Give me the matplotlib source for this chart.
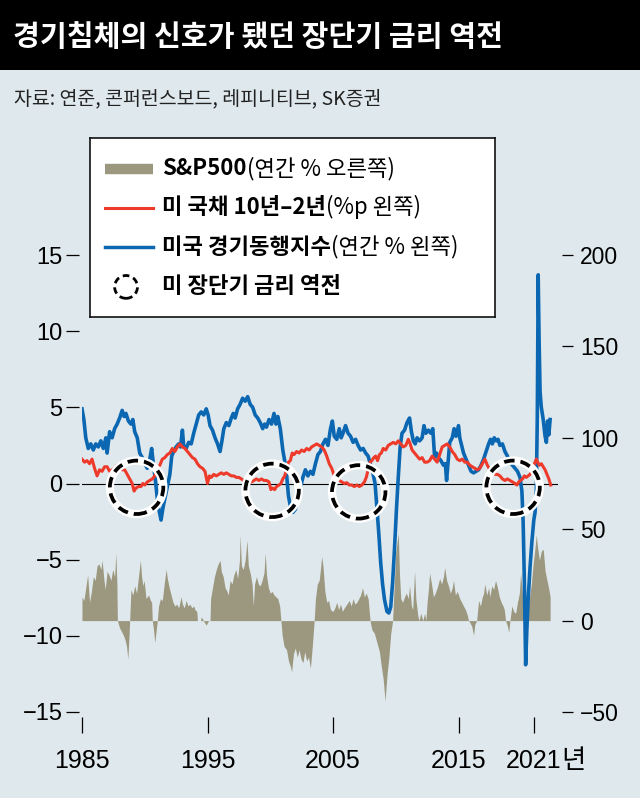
import matplotlib
matplotlib.use("Agg")
import matplotlib.pyplot as plt
from matplotlib.patches import Rectangle

KR = ["Noto Sans CJK KR", "DejaVu Sans"]
NUM = ["Liberation Sans Narrow", "Liberation Sans", "Noto Sans CJK KR"]
plt.rcParams["font.family"] = KR

BG = "#dfe8ec"
BLUE = "#0b67b2"
RED = "#ee3a2a"
SPX = "#9c977f"

title = "경기침체의 신호가 됐던 장단기 금리 역전"
source = "자료: 연준, 콘퍼런스보드, 레피니티브, SK증권"

# 미국 경기동행지수 (연간 %, 왼쪽 축)
lei_years = [1985.0, 1985.15, 1985.3, 1985.5, 1985.7, 1985.9, 1986.1, 1986.3, 1986.5, 1986.7,
             1986.9, 1987.0, 1987.2, 1987.4, 1987.6, 1987.8, 1988.0, 1988.2, 1988.35, 1988.5,
             1988.7, 1988.9, 1989.05, 1989.2, 1989.4, 1989.6, 1989.8, 1990.0, 1990.2, 1990.4,
             1990.55, 1990.7, 1990.85, 1991.0, 1991.15, 1991.3, 1991.45, 1991.6, 1991.8, 1992.0,
             1992.15, 1992.3, 1992.5, 1992.7, 1992.85, 1993.0, 1993.1, 1993.3, 1993.5, 1993.7,
             1993.9, 1994.1, 1994.3, 1994.5, 1994.7, 1994.9, 1995.05, 1995.2, 1995.4, 1995.6,
             1995.8, 1996.0, 1996.15, 1996.3, 1996.5, 1996.7, 1996.9, 1997.05, 1997.2, 1997.4,
             1997.6, 1997.8, 1998.0, 1998.2, 1998.4, 1998.6, 1998.8, 1999.0, 1999.2, 1999.4,
             1999.55, 1999.7, 1999.9, 2000.1, 2000.3, 2000.45, 2000.6, 2000.8, 2001.0, 2001.15,
             2001.3, 2001.45, 2001.6, 2001.8, 2002.0, 2002.2, 2002.4, 2002.6, 2002.8, 2003.0,
             2003.2, 2003.4, 2003.6, 2003.8, 2004.0, 2004.2, 2004.4, 2004.6, 2004.8, 2004.95,
             2005.1, 2005.3, 2005.5, 2005.65, 2005.8, 2006.0, 2006.2, 2006.4, 2006.6, 2006.8,
             2007.0, 2007.2, 2007.4, 2007.6, 2007.8, 2008.0, 2008.2, 2008.35, 2008.5, 2008.65,
             2008.8, 2008.95, 2009.1, 2009.3, 2009.45, 2009.6, 2009.75, 2009.9, 2010.05, 2010.2,
             2010.35, 2010.5, 2010.7, 2010.9, 2011.1, 2011.25, 2011.4, 2011.55, 2011.7, 2011.9,
             2012.1, 2012.25, 2012.4, 2012.6, 2012.8, 2012.95, 2013.1, 2013.25, 2013.4, 2013.6,
             2013.8, 2013.95, 2014.05, 2014.15, 2014.3, 2014.5, 2014.65, 2014.8, 2015.0, 2015.1,
             2015.25, 2015.4, 2015.6, 2015.8, 2016.0, 2016.2, 2016.4, 2016.6, 2016.8, 2017.0,
             2017.2, 2017.4, 2017.55, 2017.7, 2017.85, 2018.0, 2018.15, 2018.3, 2018.5, 2018.7,
             2018.9, 2019.1, 2019.3, 2019.5, 2019.7, 2019.9, 2020.05, 2020.15, 2020.25, 2020.35,
             2020.45, 2020.55, 2020.7, 2020.85, 2021.0, 2021.1, 2021.2, 2021.28, 2021.35, 2021.42,
             2021.5, 2021.6, 2021.75, 2021.9, 2022.0, 2022.1, 2022.2, 2022.3]
lei_vals = [4.9, 4.2, 3.0, 2.3, 2.6, 2.2, 2.6, 2.4, 2.8, 2.3,
            3.0, 2.0, 3.4, 3.0, 3.6, 3.9, 4.3, 4.8, 4.4, 4.6,
            4.1, 3.9, 4.2, 3.4, 3.0, 2.0, 1.7, 1.3, 1.0, 1.6,
            2.3, 1.2, 0.2, -1.0, -1.8, -2.4, -1.6, -1.0, -0.2, 0.6,
            1.8, 2.1, 2.4, 2.6, 2.4, 3.5, 2.5, 2.3, 2.7, 2.6,
            3.3, 3.9, 4.5, 4.7, 4.5, 4.9, 4.5, 3.8, 3.5, 3.0,
            2.6, 2.1, 2.8, 3.6, 4.0, 3.8, 4.3, 4.6, 4.3, 4.9,
            5.2, 5.6, 5.4, 5.7, 5.2, 5.0, 4.5, 4.3, 4.0, 3.6,
            3.9, 3.7, 4.2, 3.9, 4.6, 3.9, 4.4, 3.6, 2.2, 1.5,
            0.6, -0.8, -1.5, -1.9, -1.7, -0.8, -0.3, 0.4, 0.9, 0.5,
            0.8, 0.6, 1.3, 1.9, 2.1, 2.6, 2.9, 2.5, 3.6, 4.1,
            3.1, 2.9, 3.6, 3.0, 3.3, 3.8, 3.3, 3.1, 2.7, 2.9,
            2.5, 2.2, 2.3, 2.0, 1.8, 1.2, 0.6, 0.0, -1.6, -3.3,
            -5.2, -6.6, -7.6, -8.4, -8.5, -8.1, -6.5, -4.3, -1.8, 0.4,
            2.4, 3.3, 3.5, 4.0, 4.3, 3.4, 2.8, 2.6, 3.0, 2.8,
            3.0, 3.8, 3.3, 3.5, 3.3, 3.6, 1.7, 2.0, 1.7, 1.5,
            1.2, 1.3, 0.2, 1.2, 2.7, 3.0, 3.6, 3.1, 3.8, 3.0,
            2.5, 2.0, 1.6, 1.2, 0.8, 0.7, 0.8, 0.9, 1.2, 1.6,
            2.1, 2.6, 2.9, 2.6, 3.0, 2.8, 2.9, 2.5, 2.6, 2.1,
            1.8, 1.4, 1.2, 1.0, 0.8, 0.4, -0.5, -2.5, -6.5, -11.9,
            -9.5, -7.6, -5.5, -3.8, -2.4, -1.9, -0.5, 4.5, 13.7, 9.5,
            6.0, 5.0, 4.2, 3.1, 2.7, 4.1, 3.2, 4.2]

# 미 국채 10년-2년 (%p, 왼쪽 축)
spread_years = [1985.0, 1985.2, 1985.4, 1985.6, 1985.8, 1986.0, 1986.2, 1986.4, 1986.6, 1986.8,
                1987.0, 1987.2, 1987.4, 1987.6, 1987.8, 1988.0, 1988.2, 1988.4, 1988.6, 1988.8,
                1989.0, 1989.15, 1989.3, 1989.5, 1989.7, 1989.85, 1990.0, 1990.2, 1990.4, 1990.6,
                1990.8, 1991.0, 1991.2, 1991.4, 1991.6, 1991.8, 1992.0, 1992.2, 1992.4, 1992.6,
                1992.8, 1993.0, 1993.2, 1993.4, 1993.6, 1993.8, 1994.0, 1994.2, 1994.4, 1994.6,
                1994.8, 1995.0, 1995.15, 1995.3, 1995.5, 1995.7, 1995.9, 1996.1, 1996.3, 1996.5,
                1996.7, 1996.9, 1997.1, 1997.3, 1997.5, 1997.7, 1997.9, 1998.1, 1998.3, 1998.5,
                1998.7, 1998.9, 1999.1, 1999.3, 1999.5, 1999.7, 1999.9, 2000.05, 2000.2, 2000.35,
                2000.5, 2000.7, 2000.85, 2001.0, 2001.15, 2001.3, 2001.45, 2001.6, 2001.75, 2001.9,
                2002.1, 2002.3, 2002.5, 2002.7, 2002.9, 2003.1, 2003.3, 2003.5, 2003.7, 2003.9,
                2004.1, 2004.3, 2004.5, 2004.7, 2004.9, 2005.1, 2005.3, 2005.5, 2005.7, 2005.9,
                2006.1, 2006.3, 2006.5, 2006.7, 2006.9, 2007.1, 2007.3, 2007.5, 2007.65, 2007.8,
                2007.95, 2008.1, 2008.25, 2008.4, 2008.55, 2008.7, 2008.85, 2009.0, 2009.2, 2009.4,
                2009.6, 2009.8, 2010.0, 2010.2, 2010.4, 2010.6, 2010.8, 2011.0, 2011.15, 2011.3,
                2011.5, 2011.7, 2011.9, 2012.1, 2012.3, 2012.5, 2012.7, 2012.9, 2013.1, 2013.3,
                2013.5, 2013.7, 2013.9, 2014.1, 2014.3, 2014.5, 2014.7, 2014.9, 2015.1, 2015.3,
                2015.5, 2015.7, 2015.9, 2016.1, 2016.3, 2016.5, 2016.7, 2016.9, 2017.1, 2017.3,
                2017.5, 2017.7, 2017.9, 2018.1, 2018.3, 2018.5, 2018.7, 2018.9, 2019.1, 2019.3,
                2019.5, 2019.65, 2019.8, 2019.95, 2020.1, 2020.25, 2020.4, 2020.55, 2020.7, 2020.85,
                2021.0, 2021.2, 2021.3, 2021.45, 2021.6, 2021.75, 2021.9, 2022.05, 2022.2, 2022.35]
spread_vals = [1.6, 1.4, 1.5, 1.3, 1.6, 1.0, 0.5, 0.9, 0.8, 1.1,
               1.1, 0.8, 0.9, 1.0, 1.2, 1.1, 0.9, 0.9, 0.6, 0.3,
               0.0, -0.5, -0.3, -0.2, -0.2, 0.0, -0.1, 0.1, 0.2, 0.3,
               0.5, 1.0, 1.2, 1.6, 1.7, 1.9, 2.0, 2.3, 2.1, 2.4,
               2.6, 2.4, 2.3, 2.1, 1.9, 1.7, 1.6, 1.3, 1.1, 1.0,
               0.8, 0.0, 0.5, 0.4, 0.6, 0.5, 0.6, 0.7, 0.6, 0.7,
               0.6, 0.5, 0.5, 0.4, 0.4, 0.3, 0.2, 0.0, 0.1, 0.1,
               0.2, 0.3, 0.2, 0.3, 0.2, 0.2, 0.1, -0.4, -0.3, -0.4,
               -0.2, -0.1, 0.0, 0.3, 0.5, 0.9, 1.4, 1.5, 2.0, 1.9,
               2.1, 2.0, 2.2, 2.1, 2.3, 2.2, 2.4, 2.5, 2.6, 2.5,
               2.4, 2.2, 1.8, 1.3, 1.0, 0.5, 0.3, 0.2, 0.1, 0.0,
               0.05, -0.1, -0.1, -0.2, -0.1, -0.2, -0.1, 0.1, 0.4, 0.9,
               1.4, 1.5, 1.7, 1.8, 1.5, 1.9, 2.0, 2.3, 2.2, 2.5,
               2.6, 2.7, 2.6, 2.8, 2.6, 2.4, 2.5, 2.9, 2.6, 2.2,
               2.0, 1.8, 1.6, 1.7, 1.4, 1.4, 1.5, 1.8, 1.6, 1.4,
               1.9, 2.4, 2.5, 2.6, 2.4, 2.1, 1.9, 1.6, 1.5, 1.6,
               1.4, 1.4, 1.2, 1.1, 1.0, 0.9, 1.0, 1.3, 1.6, 1.2,
               0.9, 0.8, 0.6, 0.6, 0.5, 0.3, 0.2, 0.3, 0.2, 0.1,
               0.0, -0.1, 0.1, 0.2, 0.3, 0.5, 0.4, 0.5, 0.6, 0.8,
               1.2, 1.6, 1.4, 1.2, 1.3, 1.1, 0.9, 0.6, 0.3, -0.1]

# S&P500 (연간 %, 오른쪽 축)
spx_years = [1985.0, 1985.15, 1985.3, 1985.45, 1985.6, 1985.75, 1985.9, 1986.05, 1986.2, 1986.35,
             1986.5, 1986.6, 1986.75, 1986.85, 1987.0, 1987.15, 1987.3, 1987.45, 1987.6, 1987.7,
             1987.78, 1987.82, 1988.0, 1988.15, 1988.3, 1988.45, 1988.55, 1988.65, 1988.75, 1988.8,
             1988.9, 1989.05, 1989.2, 1989.35, 1989.5, 1989.65, 1989.75, 1989.85, 1989.95, 1990.1,
             1990.3, 1990.45, 1990.55, 1990.6, 1990.7, 1990.8, 1990.9, 1991.0, 1991.1, 1991.25,
             1991.4, 1991.55, 1991.7, 1991.8, 1991.95, 1992.1, 1992.25, 1992.4, 1992.55, 1992.7,
             1992.9, 1993.0, 1993.15, 1993.3, 1993.45, 1993.6, 1993.75, 1993.9, 1994.0, 1994.15,
             1994.2, 1994.45, 1994.5, 1994.6, 1994.75, 1994.9, 1995.0, 1995.1, 1995.2, 1995.25,
             1995.4, 1995.55, 1995.7, 1995.85, 1996.0, 1996.1, 1996.25, 1996.4, 1996.55, 1996.65,
             1996.8, 1996.95, 1997.1, 1997.25, 1997.4, 1997.55, 1997.6, 1997.7, 1997.85, 1998.0,
             1998.15, 1998.25, 1998.4, 1998.55, 1998.65, 1998.75, 1998.9, 1999.05, 1999.2, 1999.35,
             1999.5, 1999.6, 1999.7, 1999.85, 2000.0, 2000.15, 2000.3, 2000.45, 2000.6, 2000.75,
             2000.85, 2000.95, 2001.1, 2001.3, 2001.45, 2001.6, 2001.7, 2001.85, 2002.0, 2002.15,
             2002.3, 2002.45, 2002.6, 2002.75, 2002.9, 2003.05, 2003.2, 2003.35, 2003.5, 2003.6,
             2003.75, 2003.9, 2004.0, 2004.1, 2004.2, 2004.35, 2004.5, 2004.65, 2004.8, 2005.0,
             2005.15, 2005.3, 2005.45, 2005.6, 2005.75, 2005.9, 2006.1, 2006.3, 2006.45, 2006.6,
             2006.75, 2006.9, 2007.05, 2007.2, 2007.35, 2007.5, 2007.65, 2007.8, 2007.95, 2008.1,
             2008.3, 2008.5, 2008.7, 2008.85, 2009.0, 2009.15, 2009.3, 2009.45, 2009.6, 2009.75,
             2009.85, 2010.0, 2010.2, 2010.3, 2010.4, 2010.55, 2010.7, 2010.85, 2011.0, 2011.1,
             2011.25, 2011.35, 2011.5, 2011.6, 2011.75, 2011.85, 2012.0, 2012.15, 2012.3, 2012.4,
             2012.5, 2012.6, 2012.7, 2012.85, 2013.0, 2013.15, 2013.3, 2013.5, 2013.65, 2013.8,
             2013.9, 2014.05, 2014.2, 2014.35, 2014.5, 2014.6, 2014.75, 2014.9, 2015.1, 2015.25,
             2015.4, 2015.55, 2015.7, 2015.8, 2015.9, 2016.05, 2016.2, 2016.3, 2016.45, 2016.6,
             2016.75, 2016.9, 2017.0, 2017.1, 2017.25, 2017.4, 2017.5, 2017.65, 2017.8, 2017.95,
             2018.1, 2018.25, 2018.4, 2018.55, 2018.65, 2018.75, 2018.9, 2019.0, 2019.1, 2019.25,
             2019.4, 2019.55, 2019.7, 2019.85, 2019.95, 2020.05, 2020.15, 2020.25, 2020.35, 2020.5,
             2020.65, 2020.8, 2020.95, 2021.1, 2021.2, 2021.3, 2021.45, 2021.6, 2021.75, 2021.9,
             2022.05, 2022.2, 2022.3]
spx_vals = [13, 11, 18, 25, 10, 16, 24, 22, 30, 31,
            28, 33, 22, 17, 27, 25, 22, 28, 24, 37,
            20, 0, -4, -6, -8, -11, -14, -21, -8, 0,
            17, 14, 19, 15, 24, 33, 24, 19, 22, 12,
            14, 11, 10, 0, -5, -12, -6, 0, 8, 12,
            11, 20, 28, 23, 18, 14, 10, 8, 9, 7,
            13, 9, 7, 11, 8, 9, 7, 8, 6, 5,
            0, 0, 2, 1, -1, -2.5, -1, 0, 0, 12,
            18, 24, 28, 31, 33, 27, 24, 18, 16, 14,
            22, 20, 25, 28, 23, 33, 47, 30, 28, 33,
            44, 30, 26, 20, 8, 20, 24, 20, 19, 22,
            26, 37, 25, 18, 15, 16, 14, 13, 12, 8,
            0, -8, -14, -16, -22, -25, -28, -18, -15, -20,
            -16, -21, -23, -17, -22, -20, -26, -14, 0, 12,
            20, 22, 28, 35, 30, 16, 10, 11, 6, 5,
            7, 10, 6, 9, 5, 7, 9, 11, 8, 12,
            9, 10, 12, 14, 18, 13, 15, 12, 0, -5,
            -7, -12, -17, -25, -32, -44, -30, -20, -7, 0,
            15, 37, 48, 25, 12, 10, 13, 15, 12, 19,
            8, 6, 27, 12, 3, 0, 4, 0, 4, 0,
            10, 17, 26, 20, 13, 15, 18, 23, 20, 24,
            29, 22, 19, 15, 18, 22, 14, 16, 12, 10,
            8, 6, 3, 0, -1, -3, -8, -2, 0, 11,
            8, 13, 15, 20, 14, 18, 13, 19, 17, 22,
            18, 13, 10, 8, 6, 0, -3, -6.5, 0, 8,
            5, 4, 10, 15, 26, 18, 10, 0, 5, 8,
            12, 20, 31, 40, 47, 40, 33, 38, 39, 27,
            22, 17, 13]

# 장단기 금리 역전 구간 (동그라미 중심)
inv_years = [1989.35, 2000.15, 2007.05, 2019.35]
inv_vals = [-0.25, -0.45, -0.55, -0.25]

xticks = [1985, 1995, 2005, 2015, 2021]
xlabels = ["1985", "1995", "2005", "2015", "2021"]
left_ticks = [-15, -10, -5, 0, 5, 10, 15]
right_ticks = [-50, 0, 50, 100, 150, 200]

fig = plt.figure(figsize=(6.4, 7.98), dpi=100, facecolor=BG)
H = 798.0
W = 640.0

# title bar and source
fig.patches.append(Rectangle((0, 1 - 70 / H), 1, 70 / H, transform=fig.transFigure,
                             facecolor="black", edgecolor="none"))
fig.text(13 / W, 1 - 37 / H, title, color="white", fontsize=21, weight="bold",
         ha="left", va="center")
fig.text(14 / W, 1 - 99 / H, source, color="#222222", fontsize=14, ha="left", va="center")

ax = fig.add_axes([82 / W, 86 / H, 476 / W, 457 / H])
ax2 = ax.twinx()
ax.set_zorder(ax2.get_zorder() + 1)
ax.patch.set_visible(False)

ax.set_xlim(1985, 1985 + 476 / 12.55)
ax.set_ylim(-15, 15)
ax2.set_ylim(-50, 200)

ax2.fill_between(spx_years, 0, spx_vals, color=SPX, lw=0)

ax.axhline(0, color="black", lw=0.8, zorder=1)
ax.plot(lei_years, lei_vals, color=BLUE, lw=2.6, zorder=3, solid_joinstyle="round")
ax.plot(spread_years, spread_vals, color=RED, lw=2.2, zorder=4, solid_joinstyle="round")

ax.scatter(inv_years, inv_vals, s=1480, facecolors="none", edgecolors="white",
           linewidths=6, zorder=5)
ax.scatter(inv_years, inv_vals, s=1480, facecolors="none", edgecolors="black",
           linewidths=2.7, linestyles=(0, (2.8, 1.6)), zorder=6)

for a in (ax, ax2):
    for s in a.spines.values():
        s.set_visible(False)
ax.spines["left"].set_position(("outward", 2.5))
ax.spines["bottom"].set_position(("outward", 3.5))
ax2.spines["right"].set_position(("outward", 3))

ax.set_yticks(left_ticks)
ax.tick_params(axis="y", length=9.5, width=0.9, pad=2, labelsize=17)
ax.set_xticks(xticks, xlabels)
ax.tick_params(axis="x", length=11.5, width=0.9, pad=12, labelsize=18)
ax2.set_yticks(right_ticks)
ax2.tick_params(axis="y", length=8, width=0.9, pad=5, labelsize=16.5)
for lab in ax.get_yticklabels() + ax.get_xticklabels() + ax2.get_yticklabels():
    lab.set_family(NUM)

last = ax.get_xticklabels()[-1]
ax.annotate("년", xy=(1, 0), xycoords=last, ha="left", va="bottom", fontsize=19,
            annotation_clip=False)

# legend box
lax = fig.add_axes([90 / W, (H - 317) / H, 405 / W, 179 / H])
lax.set_xlim(0, 1)
lax.set_ylim(0, 1)
lax.set_xticks([])
lax.set_yticks([])
lax.set_facecolor("white")
for s in lax.spines.values():
    s.set_linewidth(1.2)
    s.set_color("#111111")

rows = [0.827, 0.609, 0.391, 0.168]
lax.plot([0.037, 0.156], [rows[0], rows[0]], color=SPX, lw=7.5, solid_capstyle="butt")
lax.plot([0.037, 0.156], [rows[1], rows[1]], color=RED, lw=2.2)
lax.plot([0.037, 0.156], [rows[2], rows[2]], color=BLUE, lw=2.5)
lax.scatter([0.089], [rows[3]], s=270, facecolors="none", edgecolors="black",
            linewidths=2.0, linestyles=(0, (2.4, 1.5)))

legend_bold = ["S&P500", "미 국채 10년–2년", "미국 경기동행지수", "미 장단기 금리 역전"]
legend_reg = ["(연간 % 오른쪽)", "(%p 왼쪽)", "(연간 % 왼쪽)", ""]
for y, b, r in zip(rows, legend_bold, legend_reg):
    t = lax.text(0.178, y, b, fontsize=16, weight="bold", ha="left", va="center")
    if r:
        lax.annotate(r, xy=(1, 0), xycoords=t, ha="left", va="bottom", fontsize=16)

fig.savefig("out.png", dpi=100, facecolor=BG)
